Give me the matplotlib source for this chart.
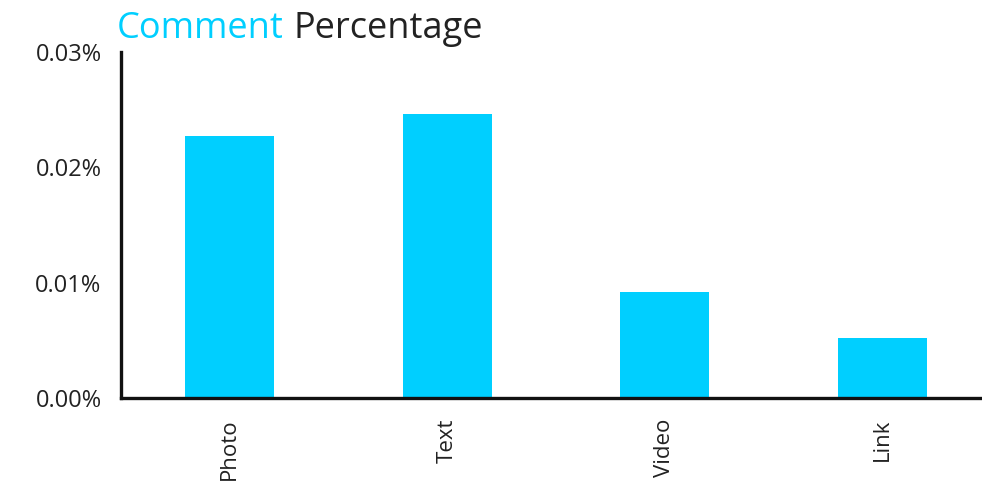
import matplotlib
matplotlib.use("Agg")
import matplotlib.pyplot as plt

categories = ["Photo", "Text", "Video", "Link"]
values = [0.0227, 0.0246, 0.0092, 0.0052]
yticks = [0.0, 0.01, 0.02, 0.03]
ytick_labels = ["0.00%", "0.01%", "0.02%", "0.03%"]

plt.rcParams['font.family'] = ['Open Sans', 'DejaVu Sans']

W, H = 982, 504
fig = plt.figure(figsize=(W / 100, H / 100), dpi=100)
ax = fig.add_axes([121 / W, (H - 398) / H, 870 / W, 346 / H])

bar_color = "#00CFFF"
x = list(range(len(categories)))
ax.bar(x, values, width=0.41, color=bar_color, zorder=1)

ax.set_xlim(-0.5, 3.5)
ax.set_ylim(0, 0.03)
ax.set_yticks(yticks)
ax.set_yticklabels(ytick_labels)
ax.set_xticks(x)
ax.set_xticklabels(categories, rotation=90)

for s in ["top", "right"]:
    ax.spines[s].set_visible(False)
for s in ["left", "bottom"]:
    ax.spines[s].set_linewidth(2.4)
    ax.spines[s].set_color("#111111")
    ax.spines[s].set_zorder(3)

ax.tick_params(axis="both", length=0, colors="#222222")
ax.tick_params(axis="y", pad=14, labelsize=17)
ax.tick_params(axis="x", pad=15, labelsize=16)

t1 = fig.text(117 / W, 1 - 38 / H, "Comment", fontsize=26, color=bar_color,
              ha="left", va="baseline")
fig.canvas.draw()
bb = t1.get_window_extent(fig.canvas.get_renderer())
fig.text((bb.x1 + 10) / W, 1 - 38 / H, "Percentage", fontsize=26, color="#222222",
         ha="left", va="baseline")

fig.savefig("out.png", dpi=100)
